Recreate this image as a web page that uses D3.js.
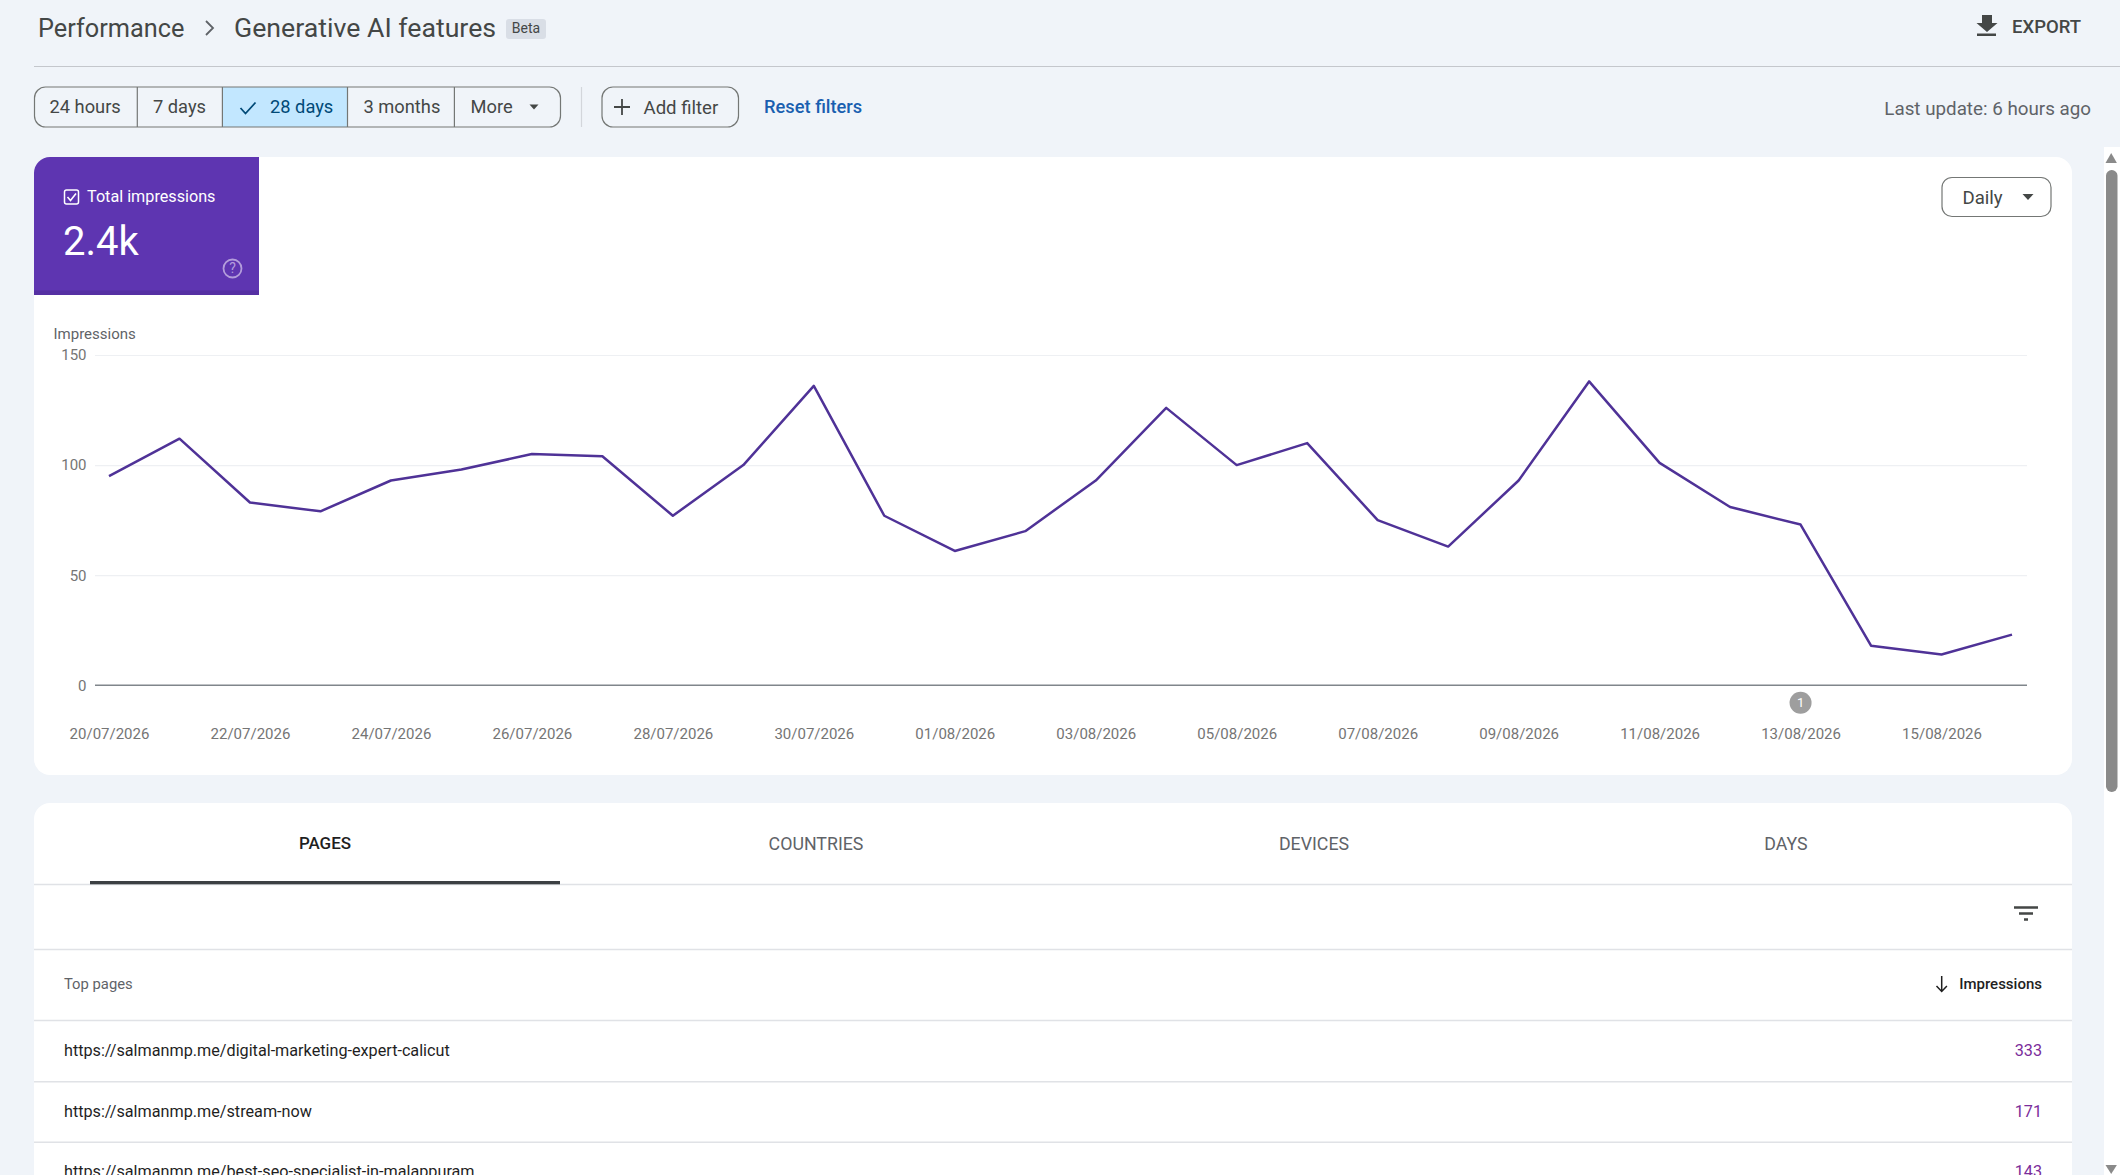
<!DOCTYPE html>
<html>
<head>
<meta charset="utf-8">
<title>Performance - Generative AI features</title>
<script src="https://cdn.jsdelivr.net/npm/d3@7"></script>
<style>
    html, body { margin: 0; padding: 0; background: #f0f4f9; overflow: hidden; }
    svg { display: block; font-family: Roboto, sans-serif; }
    .grid line { stroke: #eef0f3; stroke-width: 1.2; }
    .axis text { fill: #757575; font-size: 15px; font-family: Roboto, sans-serif; }
</style>
</head>
<body>
<svg id="page" width="2120" height="1175"></svg>
<script>
// chart data
var dates = ["20/07/2026", "21/07/2026", "22/07/2026", "23/07/2026", "24/07/2026", "25/07/2026", "26/07/2026",
    "27/07/2026", "28/07/2026", "29/07/2026", "30/07/2026", "31/07/2026", "01/08/2026", "02/08/2026",
    "03/08/2026", "04/08/2026", "05/08/2026", "06/08/2026", "07/08/2026", "08/08/2026", "09/08/2026",
    "10/08/2026", "11/08/2026", "12/08/2026", "13/08/2026", "14/08/2026", "15/08/2026", "16/08/2026"];
var impressions = [95, 112, 83, 79, 93, 98, 105, 104, 77, 100, 136, 77, 61, 70,
    93, 126, 100, 110, 75, 63, 93, 138, 101, 81, 73, 18, 14, 23];
var yTicks = [0, 50, 100, 150];
var annotationDate = "13/08/2026";

// table data
var tabNames = ["PAGES", "COUNTRIES", "DEVICES", "DAYS"];
var pageUrls = ["https://salmanmp.me/digital-marketing-expert-calicut", "https://salmanmp.me/stream-now",
    "https://salmanmp.me/best-seo-specialist-in-malappuram"];
var pageImpressions = [333, 171, 143];

var rangeNames = ["24 hours", "7 days", "28 days", "3 months", "More"];

var svg = d3.select("#page");

function label(x, y, str, size, color, anchor, weight) {
    return svg.append("text")
        .attr("x", x)
        .attr("y", y)
        .attr("dy", "0.35em")
        .attr("text-anchor", anchor || "start")
        .style("font-size", size + "px")
        .style("font-weight", weight || 400)
        .attr("fill", color)
        .text(str);
}

function triangle(cx, cy, w, h, color) {
    svg.append("path")
        .attr("d", "M" + (cx - w / 2) + "," + (cy - h / 2) + "h" + w + "l" + (-w / 2) + "," + h + "z")
        .attr("fill", color);
}

function hLine(x1, x2, y, color, width) {
    svg.append("line")
        .attr("x1", x1).attr("x2", x2)
        .attr("y1", y).attr("y2", y)
        .attr("stroke", color)
        .attr("stroke-width", width || 1.2);
}

// header
label(38, 28, "Performance", 25.3, "#444746");
svg.append("path").attr("d", "M206,21l7,7l-7,7").attr("fill", "none").attr("stroke", "#5f6368").attr("stroke-width", 1.8);
label(234, 28, "Generative AI features", 26.7, "#444746");
svg.append("rect").attr("x", 506).attr("y", 19).attr("width", 40).attr("height", 20).attr("rx", 3).attr("fill", "#d9dee6");
label(526, 28.5, "Beta", 14, "#444746", "middle");

// export
svg.append("path").attr("d", "M1982,15h10v8h5.5l-10.5,9l-10.5,-9h5.5z").attr("fill", "#444746");
svg.append("rect").attr("x", 1977).attr("y", 33.5).attr("width", 19).attr("height", 2.5).attr("fill", "#444746");
label(2012, 27, "EXPORT", 18.5, "#444746", "start", 500);

hLine(34, 2120, 66.5, "#c4c7cc", 1.2);

// date range buttons
var rangeEdges = [34, 137.3, 222.4, 347.5, 454.4, 560.5];
var rangeLabelX = [49.5, 153, 270, 363.5, 470.5];
var btnTop = 87, btnH = 40;
svg.append("rect").attr("x", 222.4).attr("y", btnTop).attr("width", 125.1).attr("height", btnH).attr("fill", "#c2e7ff");
svg.append("rect").attr("x", 34.5).attr("y", btnTop).attr("width", 526).attr("height", btnH).attr("rx", 11)
    .attr("fill", "none").attr("stroke", "#747775").attr("stroke-width", 1.2);
rangeEdges.slice(1, 5).forEach(function(x) {
    svg.append("line").attr("x1", x).attr("x2", x).attr("y1", btnTop).attr("y2", btnTop + btnH)
        .attr("stroke", "#747775").attr("stroke-width", 1.2);
});
rangeNames.forEach(function(name, i) {
    label(rangeLabelX[i], 107, name, 18.3, i === 2 ? "#004a77" : "#444746");
});
svg.append("path").attr("d", "M240.5,108l5,5.5l10,-11").attr("fill", "none").attr("stroke", "#004a77").attr("stroke-width", 1.8);
triangle(534, 107, 9, 5, "#444746");

svg.append("line").attr("x1", 581.5).attr("x2", 581.5).attr("y1", 87).attr("y2", 127).attr("stroke", "#d3d6db").attr("stroke-width", 1.2);

// add filter / reset
svg.append("rect").attr("x", 602).attr("y", btnTop).attr("width", 136.5).attr("height", btnH).attr("rx", 11)
    .attr("fill", "none").attr("stroke", "#747775").attr("stroke-width", 1.2);
svg.append("path").attr("d", "M622,99v16M614,107h16").attr("stroke", "#444746").attr("stroke-width", 1.8);
label(643.5, 107, "Add filter", 18.6, "#444746");
label(764, 107, "Reset filters", 18.3, "#1a5fb0", "start", 500);
label(2091, 108, "Last update: 6 hours ago", 18.8, "#5f6368", "end");

// chart card
svg.append("rect").attr("x", 34).attr("y", 157).attr("width", 2038).attr("height", 618).attr("rx", 16).attr("fill", "#fff");

// metric tile
svg.append("path").attr("d", "M34,295V173a16,16 0 0 1 16,-16H259V295z").attr("fill", "#5e35b1");
svg.append("rect").attr("x", 34).attr("y", 290.5).attr("width", 225).attr("height", 4.5).attr("fill", "#5530a3");
svg.append("rect").attr("x", 64.5).attr("y", 190).attr("width", 14).attr("height", 14).attr("rx", 2)
    .attr("fill", "none").attr("stroke", "#fff").attr("stroke-width", 1.5);
svg.append("path").attr("d", "M67.5,197l3,3.5l5.5,-7").attr("fill", "none").attr("stroke", "#fff").attr("stroke-width", 1.6);
label(87, 196.5, "Total impressions", 16.2, "#fff");
label(63, 241, "2.4k", 40, "#fff");
svg.append("circle").attr("cx", 232.5).attr("cy", 268.5).attr("r", 9).attr("fill", "none").attr("stroke", "#b39ddb").attr("stroke-width", 1.8);
label(232.5, 268.5, "?", 14, "#b39ddb", "middle");

// daily dropdown
svg.append("rect").attr("x", 1942).attr("y", 177.5).attr("width", 109).attr("height", 39).attr("rx", 10)
    .attr("fill", "#fff").attr("stroke", "#747775").attr("stroke-width", 1.2);
label(1962.5, 197, "Daily", 18.6, "#444746");
triangle(2028, 197, 11, 6, "#444746");

// chart
var xScale = d3.scalePoint().domain(dates).range([109, 2012]);
var yScale = d3.scaleLinear().domain([0, 150]).range([685.3, 355]);

label(53.5, 334, "Impressions", 15, "#5f6368");

svg.append("g")
    .attr("class", "grid")
    .attr("transform", "translate(95,0)")
    .call(d3.axisLeft(yScale).tickValues(yTicks.slice(1)).tickSize(-1932).tickFormat(""))
    .call(function(g) { g.select(".domain").remove(); });

var yAxis = svg.append("g")
    .attr("class", "axis")
    .attr("transform", "translate(95,0)")
    .call(d3.axisLeft(yScale).tickValues(yTicks).tickSize(0).tickPadding(8.5));
yAxis.select(".domain").remove();

var xAxis = svg.append("g")
    .attr("class", "axis")
    .attr("transform", "translate(0,685.3)")
    .call(d3.axisBottom(xScale)
        .tickValues(dates.filter(function(d, i) { return i % 2 === 0; }))
        .tickSize(0).tickPadding(43.5));
xAxis.select(".domain").remove();

hLine(95, 2027, yScale(0), "#80868b", 1.5);

var line = d3.line()
    .x(function(d, i) { return xScale(dates[i]); })
    .y(function(d) { return yScale(d); });

svg.append("path")
    .datum(impressions)
    .attr("d", line)
    .attr("fill", "none")
    .attr("stroke", "#4f3297")
    .attr("stroke-width", 2.5)
    .attr("stroke-linejoin", "round");

// annotation marker
svg.append("circle").attr("cx", xScale(annotationDate)).attr("cy", 702.7).attr("r", 11).attr("fill", "#9e9e9e");
label(xScale(annotationDate), 702.7, "1", 13, "#fff", "middle");

// table card
svg.append("path").attr("d", "M34,1175V819a16,16 0 0 1 16,-16H2056a16,16 0 0 1 16,16V1175z").attr("fill", "#fff");

var tabCenters = [325, 816, 1314, 1786];
tabNames.forEach(function(name, i) {
    label(tabCenters[i], 843.5, name, i === 0 ? 17 : 17.8, i === 0 ? "#1f1f1f" : "#5f6368", "middle", i === 0 ? 500 : 400);
});
hLine(34, 2072, 884.5, "#e0e2e6", 1.5);
svg.append("rect").attr("x", 90).attr("y", 881).attr("width", 470).attr("height", 3.3).attr("fill", "#3c4043");

// filter icon
svg.append("path").attr("d", "M2014,907.5h24M2019,913.5h14M2024,919.5h4").attr("stroke", "#444746").attr("stroke-width", 2.4);

hLine(34, 2072, 949.5, "#e0e2e6", 1.5);
label(64, 984, "Top pages", 14.8, "#5f6368");
svg.append("path").attr("d", "M1941.7,976v15M1936.5,986l5.2,5.5l5.2,-5.5").attr("fill", "none").attr("stroke", "#1f1f1f").attr("stroke-width", 1.5);
label(2042, 984, "Impressions", 15, "#1f1f1f", "end", 500);
hLine(34, 2072, 1020.5, "#e0e2e6", 1.5);

var rowCenters = [1050.7, 1111.7, 1171.7];
var rowLines = [1081.7, 1142.3];
pageUrls.forEach(function(url, i) {
    label(64, rowCenters[i], url, 16.2, "#1f1f1f");
    label(2042, rowCenters[i], pageImpressions[i], 16.2, "#7b2d9b", "end");
    if (i < rowLines.length) hLine(34, 2072, rowLines[i], "#e0e2e6", 1.5);
});

// scrollbar
svg.append("rect").attr("x", 2104).attr("y", 147).attr("width", 16).attr("height", 1028).attr("fill", "#fff");
svg.append("rect").attr("x", 2106).attr("y", 170).attr("width", 11.5).attr("height", 622).attr("rx", 5.7).attr("fill", "#8a8a8a");
svg.append("path").attr("d", "M2105.5,163l5.7,-10l5.7,10z").attr("fill", "#8a8a8a");
svg.append("path").attr("d", "M2105.5,1165l5.7,9l5.7,-9z").attr("fill", "#8a8a8a");
</script>
</body>
</html>
